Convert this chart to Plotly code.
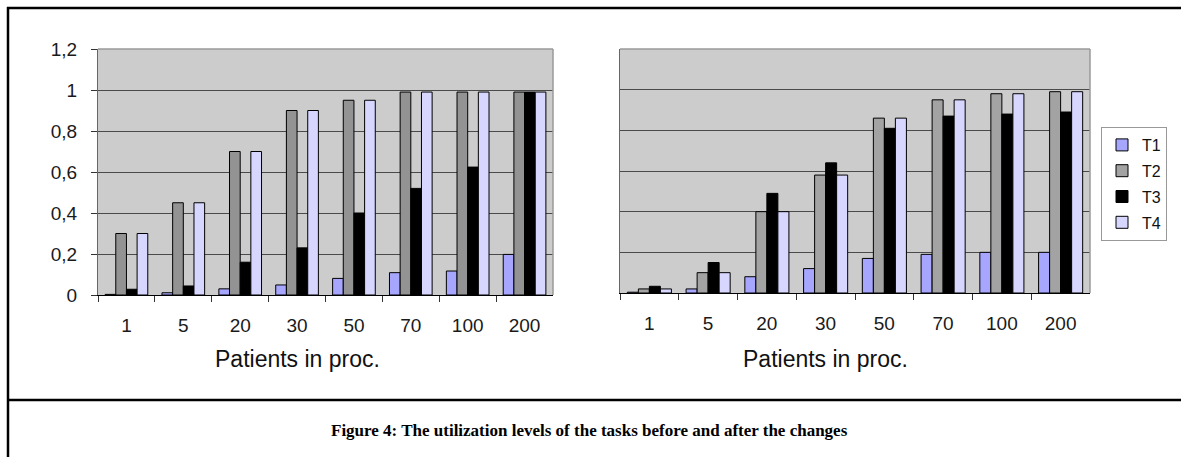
import plotly.graph_objects as go

W, H = 1181, 457

categories = ["1", "5", "20", "30", "50", "70", "100", "200"]

before_T1 = [0.003, 0.011, 0.03, 0.049, 0.081, 0.109, 0.117, 0.198]
before_T2 = [0.30, 0.45, 0.70, 0.90, 0.95, 0.99, 0.99, 0.99]
before_T3 = [0.028, 0.044, 0.16, 0.23, 0.40, 0.52, 0.624, 0.99]
before_T4 = [0.30, 0.45, 0.70, 0.90, 0.95, 0.99, 0.99, 0.99]

after_T1 = [0.004, 0.02, 0.08, 0.12, 0.17, 0.19, 0.20, 0.20]
after_T2 = [0.02, 0.10, 0.40, 0.58, 0.86, 0.95, 0.98, 0.99]
after_T3 = [0.033, 0.15, 0.49, 0.64, 0.81, 0.87, 0.88, 0.89]
after_T4 = [0.02, 0.10, 0.40, 0.58, 0.86, 0.95, 0.98, 0.99]

series_names = ["T1", "T2", "T3", "T4"]
colors_left = ["#a6a6ff", "#939393", "#000000", "#d6d6ff"]
colors_right = ["#a6a6ff", "#a3a3a3", "#000000", "#d6d6ff"]

fig = go.Figure()

for name, vals, col in zip(series_names, [before_T1, before_T2, before_T3, before_T4], colors_left):
    fig.add_trace(go.Bar(x=categories, y=vals, name=name, marker=dict(color=col, line=dict(color="#000000", width=1)),
                         xaxis="x", yaxis="y", showlegend=False))
for name, vals, col in zip(series_names, [after_T1, after_T2, after_T3, after_T4], colors_right):
    fig.add_trace(go.Bar(x=categories, y=vals, name=name, marker=dict(color=col, line=dict(color="#000000", width=1)),
                         xaxis="x2", yaxis="y2", showlegend=True, legendgroup=name))

def px_x(p):
    return p / W

def px_y(p):
    return 1 - p / H

font_main = "Liberation Sans, Arial, sans-serif"

xcommon = dict(type="category", categoryorder="array", categoryarray=categories,
               showline=True, linecolor="#000000", linewidth=1,
               ticks="outside", tickson="boundaries", ticklen=6, tickcolor="#333333",
               tickfont=dict(family=font_main, size=19, color="#1a1a1a"),
               ticklabelstandoff=13, showgrid=False, fixedrange=True, automargin=False)
ycommon = dict(range=[0, 1.2], dtick=0.2, showgrid=True, gridcolor="#4a4a4a", gridwidth=1,
               zeroline=False, showline=True, linecolor="#666666", linewidth=1, fixedrange=True,
               automargin=False)

fig.update_layout(
    template="none",
    width=W, height=H,
    autosize=False,
    margin=dict(l=0, r=0, t=0, b=0, pad=0),
    paper_bgcolor="#ffffff",
    plot_bgcolor="#cccccc",
    separators=", ",
    barmode="group", bargap=0.25, bargroupgap=0,
    font=dict(family=font_main, color="#111111"),
    xaxis=dict(domain=[px_x(98), px_x(553)], anchor="y", **xcommon),
    yaxis=dict(domain=[px_y(295), px_y(49)], anchor="x", ticks="outside", ticklen=6, tickcolor="#333333",
               tickfont=dict(family=font_main, size=19, color="#1a1a1a"), ticklabelstandoff=10, **ycommon),
    xaxis2=dict(domain=[px_x(620), px_x(1090)], anchor="y2", **xcommon),
    yaxis2=dict(domain=[px_y(293), px_y(49)], anchor="x2", showticklabels=False, ticks="", **ycommon),
    legend=dict(x=px_x(1101), y=px_y(127), xanchor="left", yanchor="top",
                bgcolor="#ffffff", bordercolor="#999999", borderwidth=1,
                font=dict(family=font_main, size=16, color="#111111"),
                itemwidth=30, tracegroupgap=2, itemclick=False, itemdoubleclick=False),
    showlegend=True,
)

shapes = []
# plot area borders (gray top/right)
for xr, yr in [("x domain", "y domain"), ("x2 domain", "y2 domain")]:
    shapes.append(dict(type="line", xref=xr, yref=yr, x0=0, x1=1, y0=1, y1=1, line=dict(color="#9a9a9a", width=1.5)))
    shapes.append(dict(type="line", xref=xr, yref=yr, x0=1, x1=1, y0=0, y1=1, line=dict(color="#9a9a9a", width=1.5)))
# outer frame
shapes.append(dict(type="line", xref="paper", yref="paper", x0=px_x(8), x1=px_x(8), y0=px_y(7), y1=0,
                   line=dict(color="#000000", width=2.5)))
shapes.append(dict(type="line", xref="paper", yref="paper", x0=px_x(7), x1=1, y0=px_y(8), y1=px_y(8),
                   line=dict(color="#000000", width=2.5)))
shapes.append(dict(type="line", xref="paper", yref="paper", x0=px_x(7), x1=1, y0=px_y(400), y1=px_y(400),
                   line=dict(color="#000000", width=2.5)))
fig.update_layout(shapes=shapes)

annotations = [
    dict(text="Patients in proc.", xref="paper", yref="paper", x=px_x(297), y=px_y(359),
         xanchor="center", yanchor="middle", showarrow=False,
         font=dict(family=font_main, size=23, color="#111111")),
    dict(text="Patients in proc.", xref="paper", yref="paper", x=px_x(825), y=px_y(359),
         xanchor="center", yanchor="middle", showarrow=False,
         font=dict(family=font_main, size=23, color="#111111")),
    dict(text="<b>Figure 4: The utilization levels of the tasks before and after the changes</b>",
         xref="paper", yref="paper", x=px_x(589), y=px_y(430), xanchor="center", yanchor="middle",
         showarrow=False, font=dict(family="Liberation Serif, Times New Roman, serif", size=17, color="#000000")),
]
fig.update_layout(annotations=annotations)

fig.write_html("out.html", config={"displayModeBar": False},
               post_script="document.body.style.margin='0';document.body.style.overflow='hidden';")
